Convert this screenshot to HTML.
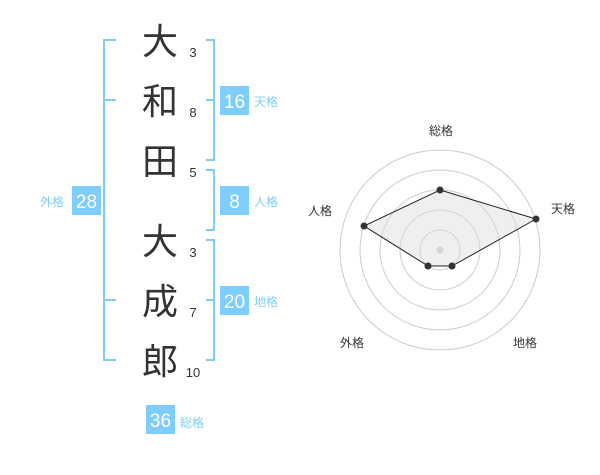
<!DOCTYPE html>
<html><head><meta charset="utf-8"><style>
body{margin:0;background:#fff;width:600px;height:470px;overflow:hidden}
</style></head><body>
<svg width="600" height="470" xmlns="http://www.w3.org/2000/svg" font-family="Liberation Sans, Noto Sans CJK JP, sans-serif">
<g stroke="#7fcdfb" stroke-width="2" fill="none">
<path d="M116 40H104V360H116M104 100H116M104 300H116"/>
<path d="M206 40H214V160H206M214 100H206"/>
<path d="M206 170H214V230H206"/>
<path d="M206 240H214V360H206M214 300H206"/>
</g>
<g font-size="36" fill="#333" text-anchor="middle" font-family="Noto Sans CJK JP, sans-serif">
<text x="160" y="54">大</text>
<text x="160" y="114">和</text>
<text x="160" y="174">田</text>
<text x="160" y="254">大</text>
<text x="160" y="314">成</text>
<text x="160" y="374">郎</text>
</g>
<g font-size="13" fill="#333" text-anchor="middle">
<text x="193" y="57">3</text>
<text x="193" y="117">8</text>
<text x="193" y="177">5</text>
<text x="193" y="257">3</text>
<text x="193" y="317">7</text>
<text x="193" y="377">10</text>
</g>
<g fill="#7fcdfb">
<rect x="220" y="86" width="29" height="29"/>
<rect x="220" y="186" width="29" height="29"/>
<rect x="220" y="286" width="29" height="29"/>
<rect x="72" y="186" width="29" height="29"/>
<rect x="146" y="405" width="29" height="29"/>
</g>
<g fill="#fff" font-size="19" text-anchor="middle">
<text x="234.5" y="108">16</text>
<text x="234.5" y="208">8</text>
<text x="234.5" y="308">20</text>
<text x="86.5" y="208">28</text>
<text x="160.5" y="427">36</text>
</g>
<g fill="#7fcdfb" font-size="12">
<text x="254" y="106">天格</text>
<text x="254" y="206">人格</text>
<text x="254" y="306">地格</text>
<text x="40" y="206">外格</text>
<text x="180" y="427">総格</text>
</g>
<g fill="none" stroke="#ccc" stroke-width="1">
<circle cx="440" cy="250" r="20"/><circle cx="440" cy="250" r="40"/><circle cx="440" cy="250" r="60"/><circle cx="440" cy="250" r="80"/><circle cx="440" cy="250" r="100"/>
</g>
<circle cx="440" cy="250" r="3.5" fill="#ccc"/>
<polygon points="440,190 536,219 452,266 428,266 364,226" fill="rgba(220,220,220,0.45)" stroke="#222" stroke-width="1"/>
<g fill="#333"><circle cx="440" cy="190" r="3.5"/><circle cx="536" cy="219" r="3.5"/><circle cx="452" cy="266" r="3.5"/><circle cx="428" cy="266" r="3.5"/><circle cx="364" cy="226" r="3.5"/></g>
<g fill="#333" font-size="12" text-anchor="middle">
<text x="441" y="135">総格</text>
<text x="563" y="213">天格</text>
<text x="320" y="215">人格</text>
<text x="352" y="347">外格</text>
<text x="525" y="347">地格</text>
</g>
</svg>
</body></html>
